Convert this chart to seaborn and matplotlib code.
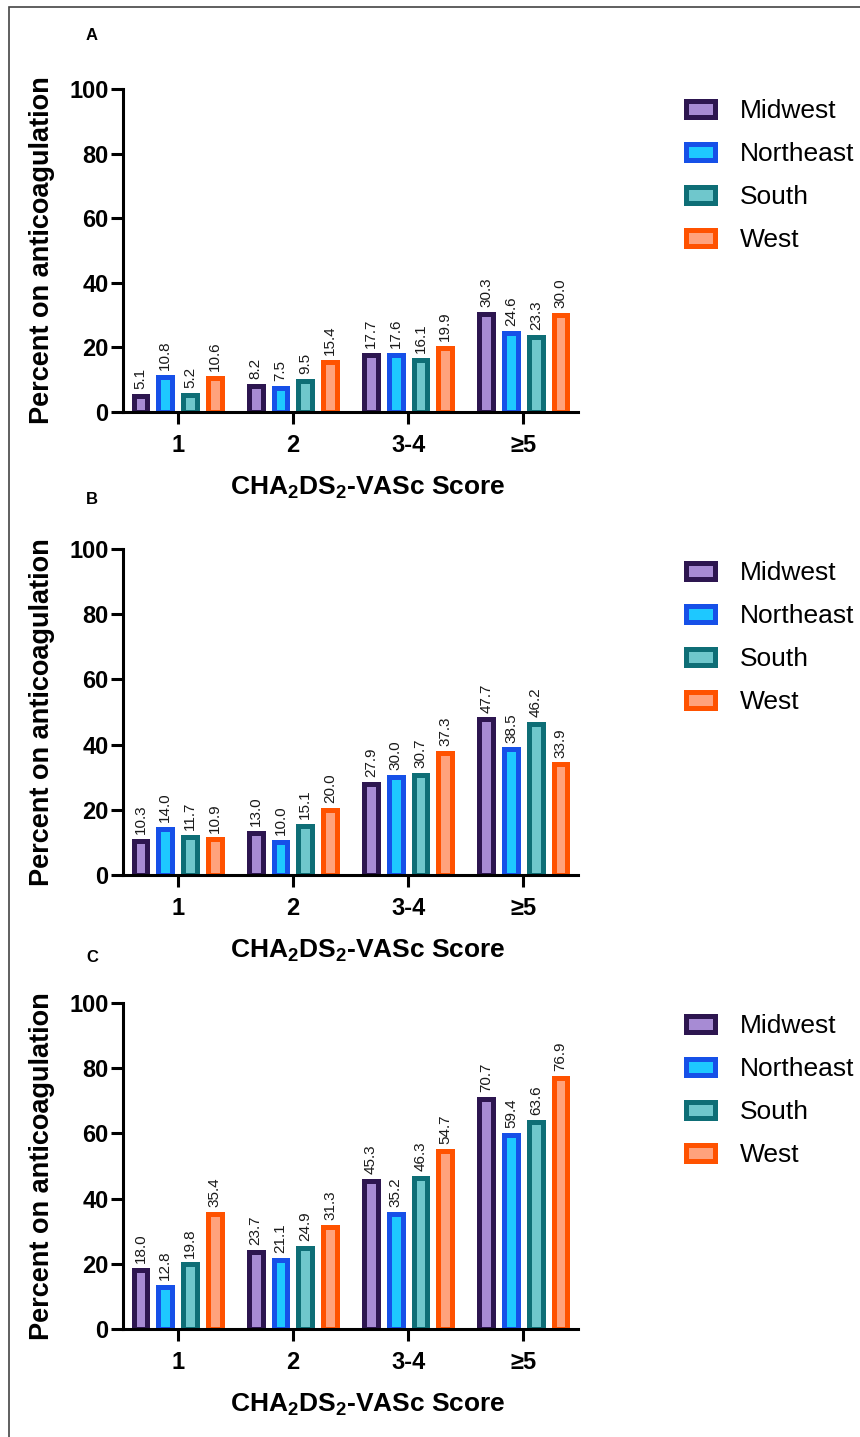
import pandas as pd
import matplotlib.pyplot as plt
import seaborn as sns
from matplotlib.patches import Rectangle

# categories
scores = ["1", "2", "3-4", "\u22655"]
regions = ["Midwest", "Northeast", "South", "West"]

# percent on anticoagulation (panel A)
a_midwest = [5.1, 8.2, 17.7, 30.3]
a_northeast = [10.8, 7.5, 17.6, 24.6]
a_south = [5.2, 9.5, 16.1, 23.3]
a_west = [10.6, 15.4, 19.9, 30.0]

# panel B
b_midwest = [10.3, 13.0, 27.9, 47.7]
b_northeast = [14.0, 10.0, 30.0, 38.5]
b_south = [11.7, 15.1, 30.7, 46.2]
b_west = [10.9, 20.0, 37.3, 33.9]

# panel C
c_midwest = [18.0, 23.7, 45.3, 70.7]
c_northeast = [12.8, 21.1, 35.2, 59.4]
c_south = [19.8, 24.9, 46.3, 63.6]
c_west = [35.4, 31.3, 54.7, 76.9]

panel_data = {
    "A": [a_midwest, a_northeast, a_south, a_west],
    "B": [b_midwest, b_northeast, b_south, b_west],
    "C": [c_midwest, c_northeast, c_south, c_west],
}

fill_colors = {"Midwest": "#a78bd4", "Northeast": "#1ec8ff", "South": "#6fc7cc", "West": "#ffa27c"}
edge_colors = {"Midwest": "#2d1650", "Northeast": "#1650e8", "South": "#0e6e76", "West": "#ff5200"}

sns.set_style("ticks")
plt.rcParams["font.family"] = ["Liberation Sans", "DejaVu Sans"]
plt.rcParams["mathtext.fontset"] = "custom"
plt.rcParams["mathtext.rm"] = "Liberation Sans"
plt.rcParams["mathtext.bf"] = "Liberation Sans:bold"
plt.rcParams["text.color"] = "black"
plt.rcParams["axes.labelcolor"] = "black"

W, H = 860, 1437
fig = plt.figure(figsize=(W / 100, H / 100), dpi=100)

# pixel layout: (y of 0 line, y of 100 line)
axes_px = {"A": (412, 89), "B": (875, 549), "C": (1329, 1003)}
letter_y = {"A": 35, "B": 500, "C": 958}
legend_top = {"A": 99, "B": 561, "C": 1014}
x_left, x_right = 123, 578

for name, series in panel_data.items():
    y0, y100 = axes_px[name]
    ax = fig.add_axes([x_left / W, 1 - y0 / H, (x_right - x_left) / W, (y0 - y100) / H])

    rows = []
    for region, vals in zip(regions, series):
        for s, v in zip(scores, vals):
            rows.append({"score": s, "region": region, "pct": v})
    df = pd.DataFrame(rows)

    sns.barplot(data=df, x="score", y="pct", hue="region", order=scores,
                hue_order=regions, palette=fill_colors, saturation=1,
                width=0.86, gap=0.44, linewidth=3.6, errorbar=None,
                legend=False, ax=ax)

    for cont, region in zip(ax.containers, regions):
        for bar in cont:
            bar.set_edgecolor(edge_colors[region])
            bar.set_linewidth(3.6)
        ax.bar_label(cont, fmt="%.1f", rotation=90, padding=5,
                     fontsize=11, color="#1a1a1a")

    ax.set_ylim(0, 100)
    ax.set_xlim(-0.474, 3.474)
    ax.set_yticks([0, 20, 40, 60, 80, 100])
    sns.despine(ax=ax)
    for sp in ["left", "bottom"]:
        ax.spines[sp].set_linewidth(2.2)
        ax.spines[sp].set_color("black")
    ax.tick_params(axis="both", width=2.2, length=8.5, color="black",
                   labelsize=17, labelcolor="black")
    ax.tick_params(axis="x", pad=7)
    ax.tick_params(axis="y", pad=2)
    for lab in ax.get_xticklabels() + ax.get_yticklabels():
        lab.set_fontweight("bold")

    ax.set_ylabel("Percent on anticoagulation", fontsize=19.5,
                  fontweight="bold", labelpad=10)
    ax.set_xlabel(r"CHA$_\mathbf{2}$DS$_\mathbf{2}$-VASc Score", fontsize=19,
                  fontweight="bold", labelpad=13)
    ax.xaxis.label.set_x(0.538)

    ax.legend(handles=list(ax.containers), labels=regions,
              loc="upper left", bbox_to_anchor=(686 / W, 1 - legend_top[name] / H),
              bbox_transform=fig.transFigure, frameon=False, fontsize=19,
              handlelength=1.1, handleheight=0.55, handletextpad=0.95,
              labelspacing=0.72, borderpad=0, borderaxespad=0)

    fig.text(92 / W, 1 - letter_y[name] / H, name, fontsize=12,
             fontweight="bold", ha="center", va="center")

# frame around the figure (cut at right and bottom)
fig.patches.append(Rectangle((9 / W, -0.5), 2, 0.5 + 1 - 7 / H,
                             transform=fig.transFigure, fill=False,
                             edgecolor="#444444", linewidth=1.2))

fig.savefig("out.png", dpi=100)
